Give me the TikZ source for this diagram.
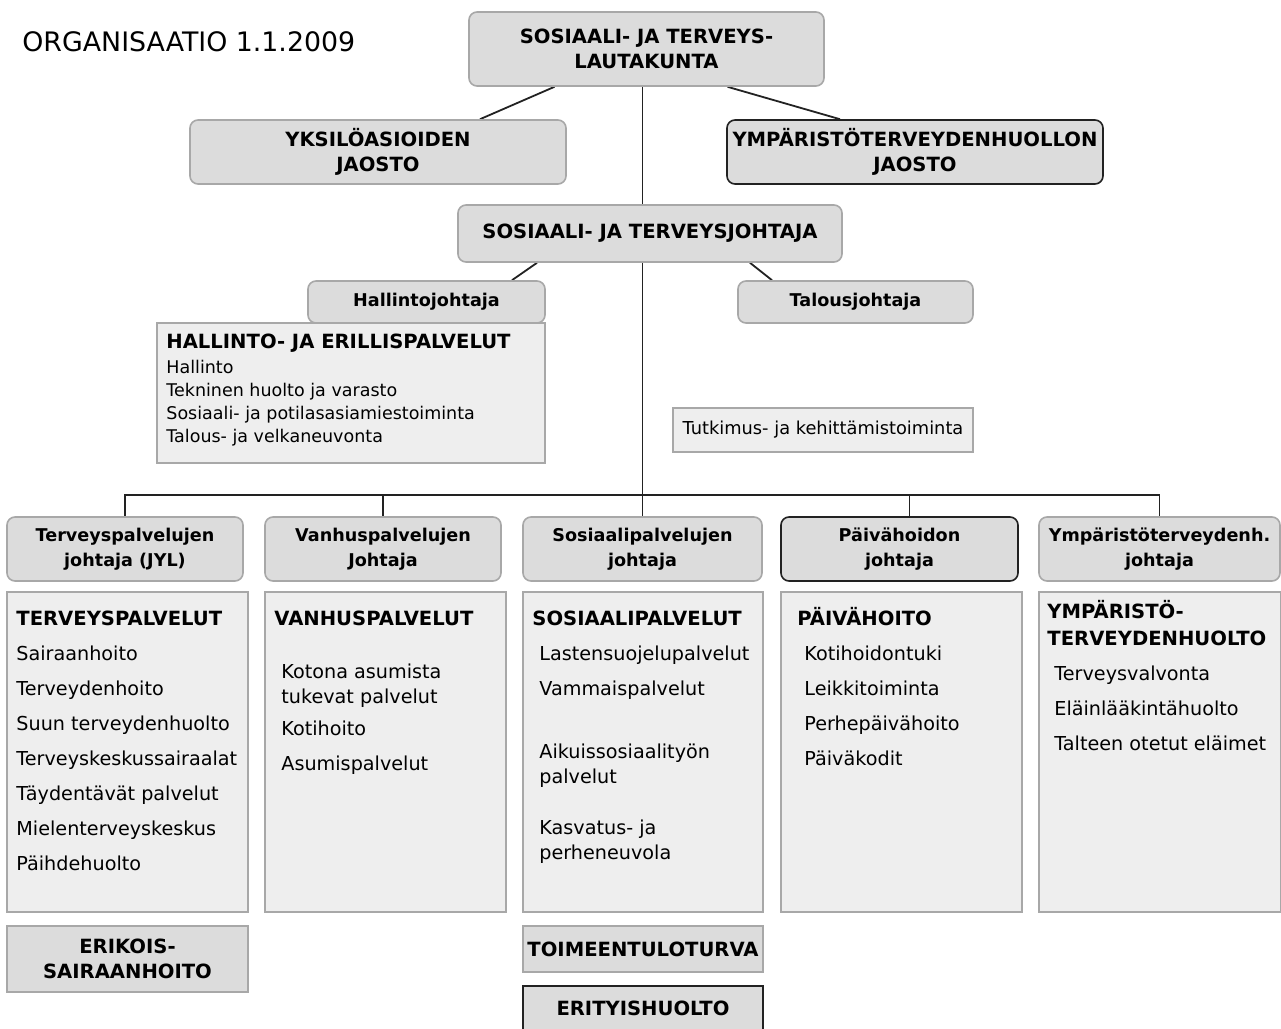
\documentclass[tikz,border=0pt]{standalone}
\usepackage{fontspec}
\setmainfont{DejaVu Sans}
\usetikzlibrary{calc,backgrounds}

\definecolor{laatikko}{HTML}{DCDCDC}
\definecolor{pohja}{HTML}{EEEEEE}
\definecolor{reuna}{HTML}{A8A8A8}
\definecolor{viiva}{HTML}{222222}

% lihavoitu otsikkorivi listan alussa (tukirivi pitaa ylareunan vakiona)
\newcommand{\otsikko}[1]{{\rule{0pt}{9.5pt}\bfseries\fontsize{9.8}{12.5}\selectfont #1}}
% pieni sisennys listan riveille
\newcommand{\sis}{\hspace*{3.5pt}}

\begin{document}
\begin{tikzpicture}[x=0.5pt,y=-0.5pt,
  johto/.style={draw=reuna,fill=laatikko,rounded corners=4pt,line width=0.8pt,
    font=\bfseries\fontsize{8.8}{12.5}\selectfont,align=center,inner sep=0pt},
  isot/.style={font=\bfseries\fontsize{9.8}{12.5}\selectfont},
  tumma/.style={draw=viiva},
  palvelu/.style={draw=reuna,fill=pohja,line width=0.8pt,inner sep=0pt},
  lista/.style={anchor=north west,align=left,inner sep=0pt,font=\fontsize{9.6}{12.5}\selectfont},
  yhteys/.style={draw=viiva,line width=0.9pt}]
\clip (0,0) rectangle (1281,1029);

\node[anchor=west,inner sep=0pt,font=\fontsize{13.4}{15}\selectfont] (otsikko) at (22,42) {ORGANISAATIO 1.1.2009};

% lautakunta ja jaostot
\node[johto,isot,minimum width=177.5pt,minimum height=37pt] (lautakunta) at (646.5,49) {SOSIAALI- JA TERVEYS-\\LAUTAKUNTA};
\node[johto,isot,minimum width=188pt,minimum height=32pt] (yksilo) at (378,152) {YKSILÖASIOIDEN\\JAOSTO};
\node[johto,isot,tumma,minimum width=188pt,minimum height=32pt] (ymparjaosto) at (915,152) {YMPÄRISTÖTERVEYDENHUOLLON\\JAOSTO};

% johtaja ja esikunta
\node[johto,isot,minimum width=192pt,minimum height=28.5pt] (sosjohtaja) at (650,233.5) {SOSIAALI- JA TERVEYSJOHTAJA};
\node[palvelu,minimum width=194pt,minimum height=70pt] (hallpalv) at (351,393) {};
\node[johto,minimum width=118.5pt,minimum height=21pt] (hallintoj) at (426.5,302) {Hallintojohtaja};
\node[johto,minimum width=117.5pt,minimum height=21pt] (talousj) at (855.5,302) {Talousjohtaja};
\node[lista,font=\fontsize{8.75}{11.5}\selectfont] (hallteksti) at (166,329) {\otsikko{HALLINTO- JA ERILLISPALVELUT}\\[1pt]Hallinto\\Tekninen huolto ja varasto\\Sosiaali- ja potilasasiamiestoiminta\\Talous- ja velkaneuvonta};
\node[palvelu,minimum width=150pt,minimum height=22pt,font=\fontsize{8.9}{10}\selectfont] (tutkimus) at (823,430) {Tutkimus- ja kehittämistoiminta};

% tulosalueiden johtajat
\node[johto,minimum width=118pt,minimum height=32pt] (terj) at (125,549) {Terveyspalvelujen\\johtaja (JYL)};
\node[johto,minimum width=118pt,minimum height=32pt] (vanj) at (383,549) {Vanhuspalvelujen\\Johtaja};
\node[johto,minimum width=119.5pt,minimum height=32pt] (sosj) at (642.5,549) {Sosiaalipalvelujen\\johtaja};
\node[johto,tumma,minimum width=118.5pt,minimum height=32pt] (paij) at (899.5,549) {Päivähoidon\\johtaja};
\node[johto,minimum width=120.5pt,minimum height=32pt] (ympj) at (1159.5,549) {Ympäristöterveydenh.\\johtaja};

% palvelut
\node[palvelu,minimum width=120.5pt,minimum height=160pt] (tersv) at (127.5,752) {};
\node[palvelu,minimum width=120.5pt,minimum height=160pt] (vansv) at (385.5,752) {};
\node[palvelu,minimum width=120pt,minimum height=160pt] (sossv) at (643,752) {};
\node[palvelu,minimum width=120.5pt,minimum height=160pt] (paisv) at (901.5,752) {};
\node[palvelu,minimum width=121pt,minimum height=160pt] (ympsv) at (1160,752) {};

\node[lista] (terlista) at (16,606) {\otsikko{TERVEYSPALVELUT}\\[5pt]Sairaanhoito\\[5pt]Terveydenhoito\\[5pt]Suun terveydenhuolto\\[5pt]Terveyskeskussairaalat\\[5pt]Täydentävät palvelut\\[5pt]Mielenterveyskeskus\\[5pt]Päihdehuolto};
\node[lista] (vanlista) at (274,606) {\otsikko{VANHUSPALVELUT}\\[14pt]\sis Kotona asumista\\\sis tukevat palvelut\\[3.5pt]\sis Kotihoito\\[5pt]\sis Asumispalvelut};
\node[lista] (soslista) at (532,606) {\otsikko{SOSIAALIPALVELUT}\\[5pt]\sis Lastensuojelupalvelut\\[5pt]\sis Vammaispalvelut\\[19pt]\sis Aikuissosiaalityön\\\sis palvelut\\[13pt]\sis Kasvatus- ja\\\sis perheneuvola};
\node[lista] (pailista) at (797,606) {\otsikko{PÄIVÄHOITO}\\[5pt]\sis Kotihoidontuki\\[5pt]\sis Leikkitoiminta\\[5pt]\sis Perhepäivähoito\\[5pt]\sis Päiväkodit};
\node[lista] (ymplista) at (1047,599) {\otsikko{YMPÄRISTÖ-}\\[1pt]\otsikko{TERVEYDENHUOLTO}\\[5pt]\sis Terveysvalvonta\\[5pt]\sis Eläinlääkintähuolto\\[5pt]\sis Talteen otetut eläimet};

% erilliset yksiköt alhaalla
\node[palvelu,isot,fill=laatikko,align=center,minimum width=120.5pt,minimum height=33pt] (erikois) at (127.5,959) {ERIKOIS-\\SAIRAANHOITO};
\node[palvelu,isot,fill=laatikko,minimum width=120pt,minimum height=23pt] (toimeentulo) at (643,949) {TOIMEENTULOTURVA};
\node[palvelu,isot,tumma,fill=laatikko,minimum width=120pt,minimum height=22.5pt] (erityis) at (643,1008.5) {ERITYISHUOLTO};

% viivat laatikoiden taakse
\begin{scope}[on background layer]
\coordinate (kisko) at (0,495);
\coordinate (paiyla) at ($(paij.north)+(10,0)$);
\draw[yhteys] ($(lautakunta.south)+(-92,0)$) -- ($(yksilo.north)+(102,0)$);
\draw[yhteys] ($(lautakunta.south)+(81,0)$) -- ($(ymparjaosto.north)+(-75,0)$);
\draw[yhteys] (lautakunta.south -| sosj.north) -- (sosj.north);
\draw[yhteys] ($(sosjohtaja.south)+(-113,0)$) -- ($(hallintoj.north)+(85.5,0)$);
\draw[yhteys] ($(sosjohtaja.south)+(100,0)$) -- ($(talousj.north)+(-83.5,0)$);
\draw[yhteys] (terj.north) -- (terj.north |- kisko) -- (ympj.north |- kisko) -- (ympj.north);
\draw[yhteys] (vanj.north |- kisko) -- (vanj.north);
\draw[yhteys] (paiyla |- kisko) -- (paiyla);
\end{scope}
\end{tikzpicture}
\end{document}
